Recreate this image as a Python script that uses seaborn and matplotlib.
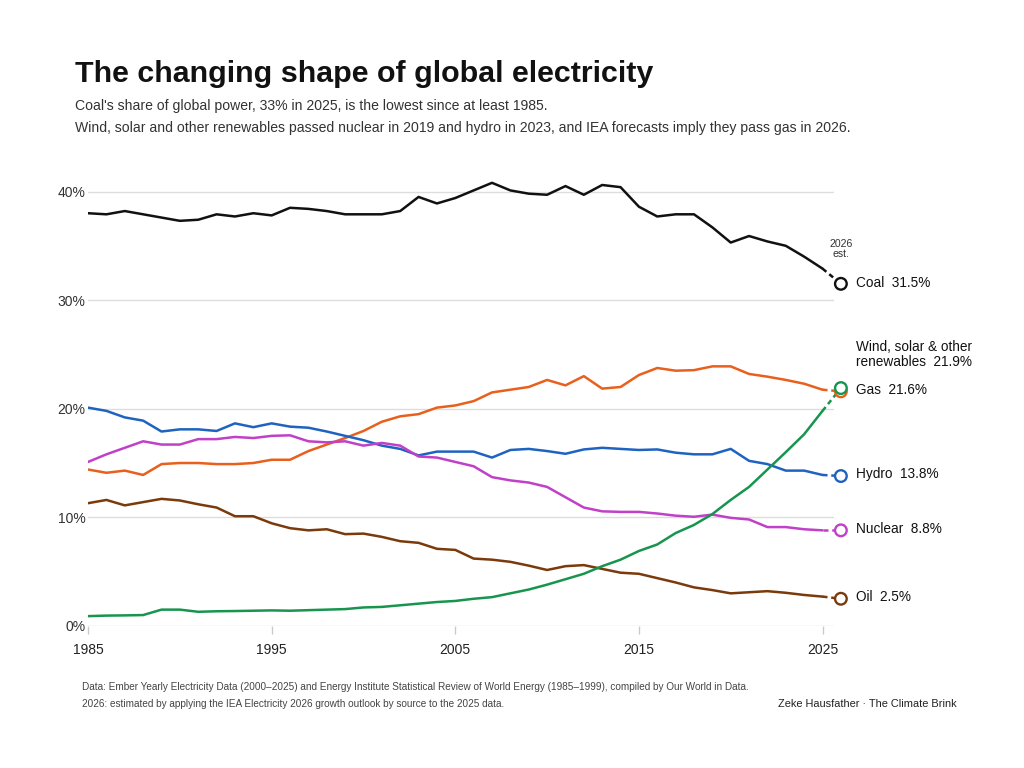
import matplotlib
matplotlib.use("Agg")
import matplotlib.pyplot as plt
from matplotlib import font_manager
import seaborn as sns
import pandas as pd

# data (share of global electricity, %)
years = list(range(1985, 2026))
coal = [38.0, 37.9, 38.2, 37.9, 37.6, 37.3, 37.4, 37.9, 37.7, 38.0,
        37.8, 38.5, 38.4, 38.2, 37.9, 37.9, 37.9, 38.2, 39.5, 38.9,
        39.4, 40.1, 40.8, 40.1, 39.8, 39.7, 40.5, 39.7, 40.6, 40.4,
        38.6, 37.7, 37.9, 37.9, 36.7, 35.3, 35.9, 35.4, 35.0, 34.0, 32.9]
gas = [14.4, 14.1, 14.3, 13.9, 14.9, 15.0, 15.0, 14.9, 14.9, 15.0,
       15.3, 15.3, 16.1, 16.7, 17.3, 17.95, 18.8, 19.3, 19.5, 20.1,
       20.3, 20.7, 21.5, 21.75, 22.0, 22.65, 22.15, 23.0, 21.85, 22.0,
       23.1, 23.75, 23.5, 23.55, 23.9, 23.9, 23.2, 22.95, 22.65, 22.3, 21.75]
hydro = [20.1, 19.8, 19.2, 18.9, 17.9, 18.1, 18.1, 17.95, 18.65, 18.3,
         18.65, 18.35, 18.25, 17.9, 17.5, 17.1, 16.6, 16.3, 15.7, 16.05,
         16.05, 16.05, 15.5, 16.2, 16.3, 16.1, 15.85, 16.25, 16.4, 16.3,
         16.2, 16.25, 15.95, 15.8, 15.8, 16.3, 15.2, 14.9, 14.3, 14.3, 13.9]
nuclear = [15.1, 15.8, 16.4, 17.0, 16.7, 16.7, 17.2, 17.2, 17.4, 17.3,
           17.5, 17.55, 17.0, 16.9, 17.0, 16.6, 16.85, 16.6, 15.6, 15.5,
           15.1, 14.7, 13.7, 13.4, 13.2, 12.8, 11.85, 10.9, 10.55, 10.5,
           10.5, 10.35, 10.15, 10.05, 10.25, 9.95, 9.8, 9.1, 9.1, 8.9, 8.8]
oil = [11.3, 11.6, 11.1, 11.4, 11.7, 11.55, 11.2, 10.9, 10.1, 10.1,
       9.45, 9.0, 8.8, 8.9, 8.45, 8.5, 8.2, 7.8, 7.65, 7.1,
       7.0, 6.2, 6.1, 5.9, 5.55, 5.15, 5.5, 5.6, 5.25, 4.9,
       4.8, 4.4, 4.0, 3.55, 3.3, 3.0, 3.1, 3.2, 3.05, 2.85, 2.7]
renewables = [0.9, 0.95, 0.97, 1.0, 1.5, 1.5, 1.3, 1.35, 1.37, 1.4,
              1.43, 1.4, 1.45, 1.5, 1.55, 1.7, 1.75, 1.9, 2.05, 2.2,
              2.3, 2.5, 2.65, 3.0, 3.35, 3.8, 4.3, 4.8, 5.5, 6.1,
              6.9, 7.5, 8.55, 9.3, 10.3, 11.6, 12.8, 14.4, 16.0, 17.65, 19.8]

sources = ['Coal', 'Gas', 'Hydro', 'Nuclear', 'Oil', 'Renewables']
series = [coal, gas, hydro, nuclear, oil, renewables]
est_2026 = [31.5, 21.6, 13.8, 8.8, 2.5, 21.9]
labels = ['Coal  31.5%', 'Gas  21.6%', 'Hydro  13.8%', 'Nuclear  8.8%', 'Oil  2.5%',
          'Wind, solar & other\nrenewables  21.9%']
label_y = [31.6, 21.7, 14.0, 8.9, 2.7, 25.0]
colors = ['#111111', '#e8601c', '#1f63c0', '#c040c8', '#7a3a0c', '#17954f']

df = pd.DataFrame({
    'year': years * len(sources),
    'share': sum(series, []),
    'source': [s for s in sources for _ in years],
})
est = pd.DataFrame({'year': [2026] * len(sources), 'share': est_2026, 'source': sources})

sns.set_theme(style='white')
# the reference uses a condensed sans, use the narrow one if it is there
names = {f.name for f in font_manager.fontManager.ttflist}
if 'Liberation Sans Narrow' in names:
    fam, k = 'Liberation Sans Narrow', 1.16
else:
    fam, k = 'Liberation Sans', 1.0
plt.rcParams['font.family'] = [fam, 'DejaVu Sans']

fig = plt.figure(figsize=(10.24, 7.68), dpi=100)
ax = fig.add_axes([0.086, 0.185, 0.728, 0.601])

palette = dict(zip(sources, colors))
sns.lineplot(data=df, x='year', y='share', hue='source', palette=palette,
             linewidth=1.8, legend=False, ax=ax)

# dashed step to the 2026 estimate plus open circles
for s, c, v in zip(sources, colors, est_2026):
    ax.plot([2025, 2026], [df[(df.source == s) & (df.year == 2025)].share.iloc[0], v],
            color=c, linewidth=1.8, linestyle=(0, (2, 1.5)), clip_on=False)
sns.scatterplot(data=est, x='year', y='share', hue='source', palette=palette,
                s=70, facecolor='white', linewidth=1.7, legend=False, ax=ax,
                clip_on=False, zorder=5)
for coll in ax.collections:
    coll.set_facecolor('white')
    coll.set_edgecolor(colors)

for txt, y in zip(labels, label_y):
    ax.text(2026.8, y, txt, fontsize=9.8 * k, color='#111111', va='center',
            ha='left', linespacing=1.05, clip_on=False)
ax.text(2026, 34.7, '2026\nest.', fontsize=7.6 * k, color='#333333', ha='center',
        va='center', linespacing=1.1)

ax.set_xlim(1985, 2025.6)
ax.set_ylim(0, 42.5)
ax.set_xticks([1985, 1995, 2005, 2015, 2025])
ax.set_yticks([0, 10, 20, 30, 40])
ax.set_yticklabels([f'{v}%' for v in [0, 10, 20, 30, 40]])
ax.set_xlabel('')
ax.set_ylabel('')
ax.grid(axis='y', color='#dddddd', linewidth=1)
for sp in ax.spines.values():
    sp.set_visible(False)
ax.tick_params(axis='x', length=6, color='#cccccc', width=1, pad=6,
               labelsize=10 * k, labelcolor='#222222', bottom=True)
ax.tick_params(axis='y', length=0, pad=2, labelsize=10 * k, labelcolor='#333333')

fig.text(0.073, 0.893, 'The changing shape of global electricity', fontsize=21.9 * k,
         fontweight='bold', color='#111111', va='baseline')
fig.text(0.073, 0.857, "Coal's share of global power, 33% in 2025, is the lowest since at least 1985.",
         fontsize=10.05 * k, color='#333333', va='baseline')
fig.text(0.073, 0.828, 'Wind, solar and other renewables passed nuclear in 2019 and hydro in 2023, '
         'and IEA forecasts imply they pass gas in 2026.',
         fontsize=10.05 * k, color='#333333', va='baseline')
fig.text(0.080, 0.1016, 'Data: Ember Yearly Electricity Data (2000–2025) and Energy Institute Statistical '
         'Review of World Energy (1985–1999), compiled by Our World in Data.',
         fontsize=7.2 * k, color='#444444', va='baseline')
fig.text(0.080, 0.0794, '2026: estimated by applying the IEA Electricity 2026 growth outlook by source '
         'to the 2025 data.', fontsize=7.2 * k, color='#444444', va='baseline')
fig.text(0.934, 0.0794, 'Zeke Hausfather · The Climate Brink', fontsize=7.9 * k,
         color='#222222', ha='right', va='baseline')

fig.savefig('out.png', dpi=100, facecolor='white')
